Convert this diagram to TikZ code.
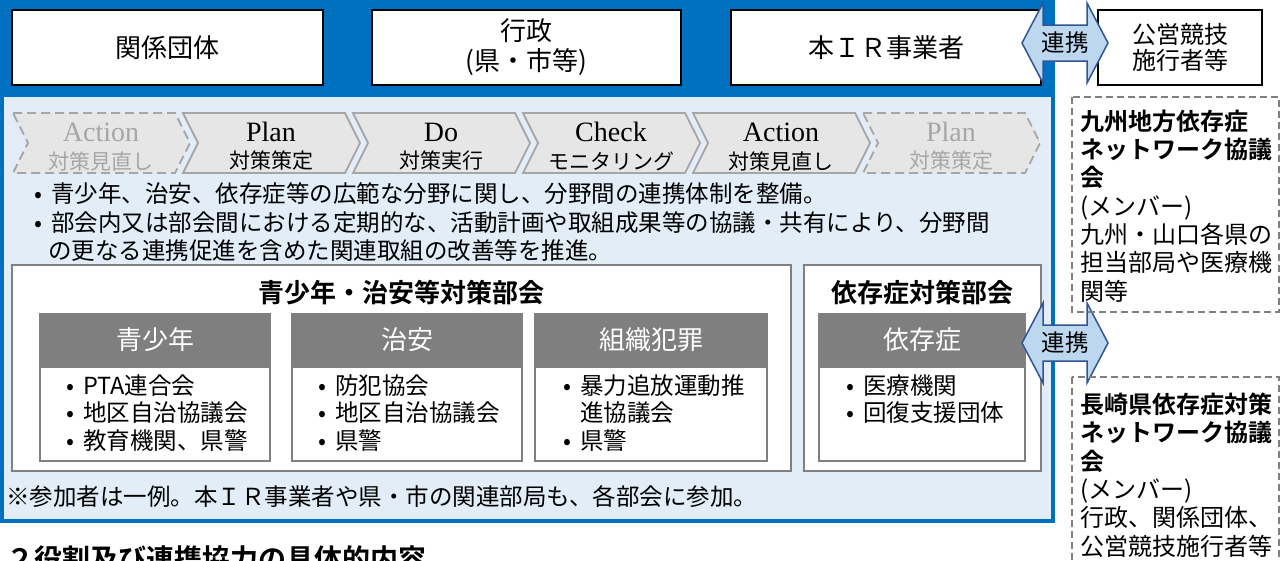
\documentclass[tikz,border=0pt]{standalone}
\usepackage{fontspec}
\setmainfont{Noto Sans CJK JP}[BoldFont={Noto Sans CJK JP Bold}]
\newfontfamily\latinfont{Liberation Serif}
\usetikzlibrary{positioning}

\definecolor{frameblue}{HTML}{0070C0}
\definecolor{panelblue}{HTML}{E2EDF8}
\definecolor{arrowfill}{HTML}{BDD7EE}
\definecolor{arrowline}{HTML}{2F5597}
\definecolor{chevfill}{HTML}{E6E6E6}
\definecolor{chevline}{HTML}{A6A6A6}
\definecolor{fadegrey}{HTML}{A6A6A6}
\definecolor{headgrey}{HTML}{7F7F7F}
\definecolor{boxgrey}{HTML}{808080}

\newcommand\fs[2]{\fontsize{#1}{#2}\selectfont}
\newcommand\bul{\makebox[17pt][l]{•}}

\tikzset{
  linkarrow/.pic={
    \draw[arrowline, fill=arrowfill, line width=1.5pt]
      (-43,0) -- (-22,-40) -- (-22,-18) -- (22,-18) -- (22,-40) -- (43,0)
      -- (22,40) -- (22,18) -- (-22,18) -- (-22,40) -- cycle;
    \node[font=\fs{23.5}{28}, inner sep=0pt] (-lbl) at (0,0) {連携};
  }
}

\begin{document}
\begin{tikzpicture}[x=1pt, y=-1pt,
  topbox/.style={draw=black, line width=2pt, fill=white, minimum height=75pt,
    inner sep=0pt, align=center, font=\fs{26}{30}},
  chevon/.style={draw=chevline, fill=chevfill, line width=1.8pt},
  chevoff/.style={chevon, dash pattern=on 9pt off 5pt},
  groupbox/.style={draw=boxgrey, line width=2.2pt, fill=white, minimum height=206pt, inner sep=0pt},
  grouptitle/.style={font=\fs{26}{30}\bfseries, inner sep=0pt},
  headbox/.style={draw=boxgrey, line width=2pt, fill=headgrey, text=white,
    minimum height=51pt, inner sep=0pt, font=\fs{26}{30}},
  bodybox/.style={draw=boxgrey, line width=2pt, fill=white, minimum height=94pt, inner sep=0pt},
  itemlist/.style={anchor=west, align=left, inner sep=0pt, font=\fs{23.5}{27.5}},
  netbox/.style={draw=boxgrey, line width=1.8pt, dash pattern=on 7pt off 4pt},
]
\useasboundingbox (0,0) rectangle (1285,560);

% Blue frame and panel
\fill[frameblue] (0,0) rectangle (1055,523);
\fill[panelblue] (4,97) rectangle (1051,519);

% Top row
\node[topbox, minimum width=311pt] (kankei) at (167.5,47.5) {関係団体};
\node[topbox, minimum width=309pt, font=\fs{26}{30}] (gyosei) at (526.5,47.5) {行政\\(県・市等)};
\node[topbox, minimum width=310pt] (irjigyo) at (886,47.5) {本ＩＲ事業者};
\node[topbox, minimum width=164pt, font=\fs{24}{26}] (koei) at (1180,47.5) {公営競技\\施行者等};

% PDCA cycle
\foreach \i/\en/\jp/\sty/\tc in {0/Action/対策見直し/chevoff/fadegrey, 1/Plan/対策策定/chevon/black,
    2/Do/対策実行/chevon/black, 3/Check/モニタリング/chevon/black,
    4/Action/対策見直し/chevon/black, 5/Plan/対策策定/chevoff/fadegrey} {
  \draw[\sty] (13+170*\i,113) -- ++(162,0) -- ++(15,30) -- ++(-15,30) -- ++(-162,0) -- ++(15,-30) -- cycle;
  \node[text=\tc, font=\latinfont\fs{28}{30}, inner sep=0pt] (pdca\i en) at (101+170*\i,132) {\en};
  \node[text=\tc, font=\fs{21}{24}, inner sep=0pt] (pdca\i jp) at (101+170*\i,161) {\jp};
}

% Description
\node[itemlist] (desc1) at (34,194) {\bul 青少年、治安、依存症等の広範な分野に関し、分野間の連携体制を整備。};
\node[itemlist] (desc2) at (34,222.5) {\bul 部会内又は部会間における定期的な、活動計画や取組成果等の協議・共有により、分野間};
\node[itemlist] (desc3) at (48,251) {の更なる連携促進を含めた関連取組の改善等を推進。};

% Committees
\node[groupbox, minimum width=779pt] (youthsafety) at (401.5,368) {};
\node[grouptitle] (tyouthsafety) at (401.5,292.5) {青少年・治安等対策部会};
\node[groupbox, minimum width=237pt] (addiction) at (922.5,368) {};
\node[grouptitle] (taddiction) at (922.5,292.5) {依存症対策部会};

\node[headbox, minimum width=230pt] (hyouth) at (155,339.5) {青少年};
\node[bodybox, minimum width=230pt, below=0pt of hyouth] (byouth) {};
\node[headbox, minimum width=230pt] (hsafety) at (407,339.5) {治安};
\node[bodybox, minimum width=230pt, below=0pt of hsafety] (bsafety) {};
\node[headbox, minimum width=232pt] (hcrime) at (651,339.5) {組織犯罪};
\node[bodybox, minimum width=232pt, below=0pt of hcrime] (bcrime) {};
\node[headbox, minimum width=206pt] (haddict) at (922,339.5) {依存症};
\node[bodybox, minimum width=206pt, below=0pt of haddict] (baddict) {};

\node[itemlist] (lyouth) at (66,413) {\bul PTA連合会\\\bul 地区自治協議会\\\bul 教育機関、県警};
\node[itemlist] (lsafety) at (318,413) {\bul 防犯協会\\\bul 地区自治協議会\\\bul 県警};
\node[itemlist] (lcrime) at (563,413) {\bul 暴力追放運動推\\\hspace*{17pt}進協議会\\\bul 県警};
\node[itemlist] (laddict) at (846,399) {\bul 医療機関\\\bul 回復支援団体};

\node[itemlist] (note) at (6,497) {※参加者は一例。本ＩＲ事業者や県・市の関連部局も、各部会に参加。};

% Links
\pic (linktop) at (1065,43) {linkarrow};
\pic (linkmid) at (1065,343) {linkarrow};

% Networks
\draw[netbox] (1072,97) rectangle (1279,312);
\node[itemlist, font=\fs{24}{28.3}] (kyushu) at (1080,206)
  {\textbf{九州地方依存症}\\\textbf{ネットワーク協議}\\\textbf{会}\\(メンバー)\\九州・山口各県の\\担当部局や医療機\\関等};
\draw[netbox] (1072,377) rectangle (1279,600);
\node[itemlist, font=\fs{24}{28.4}] (nagasaki) at (1080,475)
  {\textbf{長崎県依存症対策}\\\textbf{ネットワーク協議}\\\textbf{会}\\(メンバー)\\行政、関係団体、\\公営競技施行者等};

\node[itemlist, font=\fs{28}{32}\bfseries] (section) at (6,559) {２役割及び連携協力の具体的内容};
\end{tikzpicture}
\end{document}
